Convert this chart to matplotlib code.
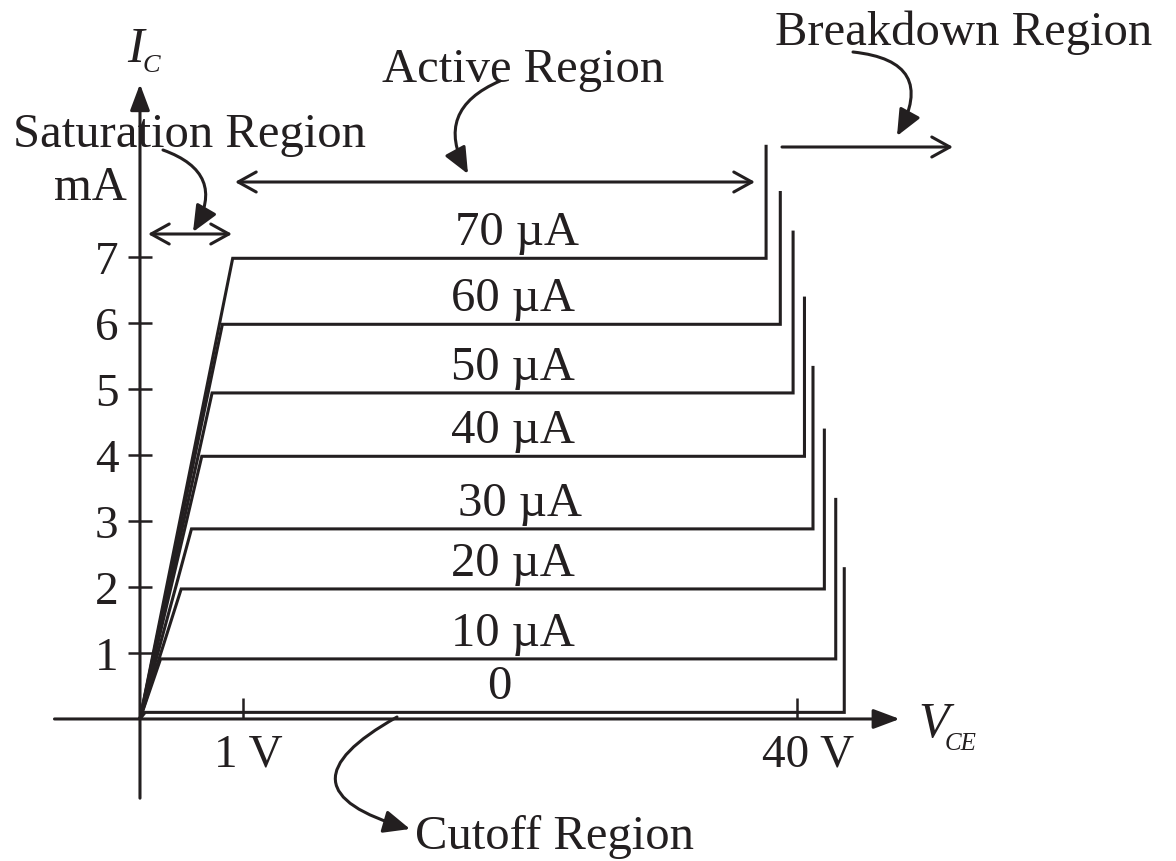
import numpy as np
import matplotlib.pyplot as plt
import matplotlib.transforms as mtransforms
from matplotlib.patches import FancyArrowPatch

plt.rcParams['font.family'] = 'Liberation Serif'

INK = '#231f20'

# output characteristic, one curve per base current
ib_labels = ['0', '10 µA', '20 µA', '30 µA', '40 µA', '50 µA', '60 µA', '70 µA']
ic_level = [0.1, 0.91, 1.97, 2.88, 3.98, 4.94, 5.98, 6.98]       # mA
v_knee = [0.05, 0.2, 0.4, 0.5, 0.6, 0.7, 0.8, 0.9]               # V
v_break = [43.3, 42.7, 41.9, 41.1, 40.5, 39.7, 38.8, 37.8]       # V
ic_break_top = [2.3, 3.35, 4.4, 5.35, 6.4, 7.4, 8.0, 8.7]        # mA
label_v = [19, 20, 20, 20.5, 20, 20, 20, 20.3]

y_ticks = [1, 2, 3, 4, 5, 6, 7]
x_ticks = [1, 40]
x_ticklabels = ['1 V', '40 V']

# schematic V_CE axis: first volt stretched, rest compressed
R = 0.138


def fwd(v):
    v = np.asarray(v, dtype=float)
    return np.where(v <= 1, v, 1 + (v - 1) * R)


def inv(u):
    u = np.asarray(u, dtype=float)
    return np.where(u <= 1, u, 1 + (u - 1) / R)


W, H = 1176, 862
fig = plt.figure(figsize=(W / 100, H / 100), dpi=100)
ax = fig.add_axes([0, 0, 1, 1])
ax.set_xscale('function', functions=(fwd, inv))
ax.set_xlim(-1.359, float(inv(10.058)))
ax.set_ylim(-2.152, 10.909)

# pixel-space transform for the annotations (y down, like the picture)
px = mtransforms.Affine2D().scale(1 / W, -1 / H).translate(0, 1) + fig.transFigure

for lab, lvl, vk, vb, top, lv in zip(ib_labels, ic_level, v_knee, v_break,
                                     ic_break_top, label_v):
    ax.plot([0, vk, vb, vb], [0, lvl, lvl, top], color=INK, lw=2.2,
            solid_joinstyle='miter', solid_capstyle='butt')
    ax.annotate(lab, (lv, lvl), xytext=(0, 10), textcoords='offset points',
                ha='center', va='baseline', fontsize=35, color=INK)

# axes with arrow heads
axis_arrow = dict(arrowstyle='-|>,head_length=0.8,head_width=0.3', lw=2.2,
                  color=INK, mutation_scale=20, shrinkA=0, shrinkB=0)
ax.annotate('', xy=(0, 9.62), xytext=(0, -1.2), arrowprops=axis_arrow)
ax.annotate('', xy=(47.2, 0), xytext=(-0.83, 0), arrowprops=axis_arrow)

for side in ['top', 'right']:
    ax.spines[side].set_visible(False)
for side in ['left', 'bottom']:
    ax.spines[side].set_position(('data', 0))
    ax.spines[side].set_visible(False)

ax.set_yticks(y_ticks)
ax.set_yticklabels([str(t) for t in y_ticks])
ax.set_xticks(x_ticks)
ax.set_xticklabels(x_ticklabels)
ax.tick_params(axis='y', direction='inout', length=17, width=1.8, pad=7,
               labelsize=34, colors=INK)
ax.tick_params(axis='x', direction='in', length=15, width=1.8, pad=10,
               labelsize=34, colors=INK)
ax.minorticks_off()
# nudge the V tick labels right, as in the drawing
for lab, dx in zip(ax.get_xticklabels(), [5, 11]):
    lab.set_transform(lab.get_transform()
                      + mtransforms.ScaledTranslation(dx / 100, 0, fig.dpi_scale_trans))

# axis titles and region labels
ax.text(127, 62, 'I', transform=px, fontsize=36, fontstyle='italic', color=INK)
ax.text(143, 72, 'C', transform=px, fontsize=19, fontstyle='italic', color=INK)
ax.text(918, 737, 'V', transform=px, fontsize=36, fontstyle='italic', color=INK)
ax.text(945, 750, 'CE', transform=px, fontsize=18, fontstyle='italic', color=INK)
ax.text(127, 200, 'mA', transform=px, fontsize=35, ha='right', color=INK)
ax.text(13, 147, 'Saturation Region', transform=px, fontsize=35, color=INK)
ax.text(382, 82, 'Active Region', transform=px, fontsize=35, color=INK)
ax.text(775, 45, 'Breakdown Region', transform=px, fontsize=35, color=INK)
ax.text(415, 849, 'Cutoff Region', transform=px, fontsize=35, color=INK)

open_style = '<->,head_length=0.65,head_width=0.36'
arrows = [
    ((148, 235), (232, 235), open_style, 'arc3'),
    ((235, 183), (755, 183), open_style, 'arc3'),
    ((782, 148), (953, 148), '->,head_length=0.65,head_width=0.36', 'arc3'),
    ((163, 151), (193, 233), '-|>,head_length=0.8,head_width=0.35', 'arc3,rad=-0.6'),
    ((500, 82), (468, 175), '-|>,head_length=0.8,head_width=0.35', 'arc3,rad=0.55'),
    ((853, 53), (897, 137), '-|>,head_length=0.8,head_width=0.35', 'arc3,rad=-0.75'),
    ((397, 718), (410, 830), '-|>,head_length=0.8,head_width=0.35', 'arc3,rad=1.2'),
]
for a, b, style, conn in arrows:
    ax.add_patch(FancyArrowPatch(a, b, transform=px, arrowstyle=style,
                                 connectionstyle=conn, mutation_scale=20,
                                 lw=2.2, color=INK, shrinkA=0, shrinkB=0))

fig.savefig('out.png', dpi=100)
